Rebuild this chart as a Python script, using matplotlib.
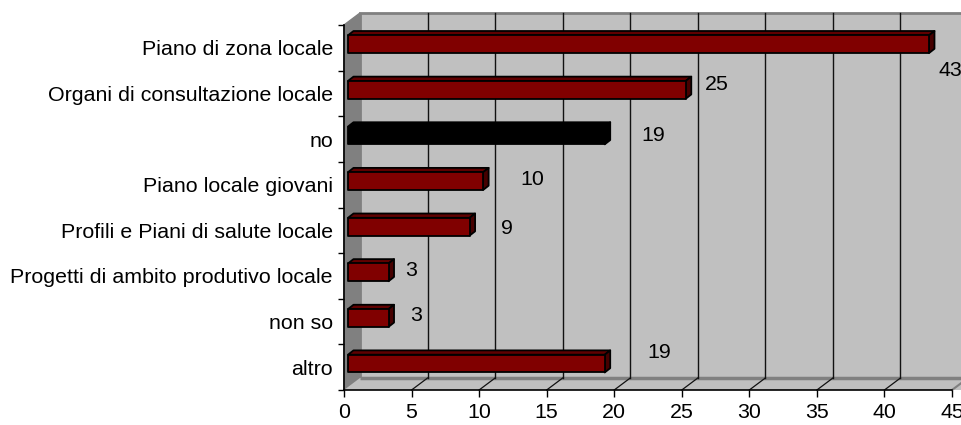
import matplotlib
matplotlib.use("Agg")
import matplotlib.pyplot as plt
from matplotlib.patches import Polygon
import numpy as np

plt.rcParams['font.family'] = ['Liberation Sans', 'DejaVu Sans']

categories = [
    "Piano di zona locale",
    "Organi di consultazione locale",
    "no",
    "Piano locale giovani",
    "Profili e Piani di salute locale",
    "Progetti di ambito produtivo locale",
    "non so",
    "altro",
]
values = [43, 25, 19, 10, 9, 3, 3, 19]
x_ticks = [0, 5, 10, 15, 20, 25, 30, 35, 40, 45]

# label offsets (pixels) from the bar end on the front plane
label_offsets = [(25, -23), (35, 9), (53, 4), (53, 5), (41, 2), (27, 5), (32, 6), (59, 15)]

FONT_SIZE = 15.4
W, H, DPI = 961, 425, 100
fig = plt.figure(figsize=(W / DPI, H / DPI), dpi=DPI)
fig.patch.set_facecolor('white')

left_px, right_px, top_px, bottom_px = 344, 952, 25, 390
ax = fig.add_axes([left_px / W, 1 - bottom_px / H,
                   (right_px - left_px) / W, (bottom_px - top_px) / H])
ax.patch.set_alpha(0)

n = len(categories)
XMAX = 45
ax.set_xlim(0, XMAX)
ax.set_ylim(n - 0.5, -0.5)

# pixel -> data unit conversion
PX = XMAX / (right_px - left_px)
PY = n / (bottom_px - top_px)

def off(dx, dy):
    return dx * PX, dy * PY

# depth of the chart box
wdx, wdy = off(16, -12)
y_top, y_bot = -0.5, n - 0.5
xr = XMAX + 3  # extend past the figure edge

# back wall
wall = Polygon([(0 + wdx, y_top + wdy), (xr + wdx, y_top + wdy),
                (xr + wdx, y_bot + wdy), (0 + wdx, y_bot + wdy)],
               closed=True, facecolor='#C0C0C0', edgecolor='#808080', lw=2,
               clip_on=False, zorder=0.5)
ax.add_patch(wall)

# side wall
side = Polygon([(0, y_top), (0 + wdx, y_top + wdy), (0 + wdx, y_bot + wdy), (0, y_bot)],
               closed=True, facecolor='#808080', edgecolor='#808080', lw=1,
               clip_on=False, zorder=0.6)
ax.add_patch(side)

# floor
floor = Polygon([(0, y_bot), (xr, y_bot), (xr + wdx, y_bot + wdy), (0 + wdx, y_bot + wdy)],
                closed=True, facecolor='#C0C0C0', edgecolor='none',
                clip_on=False, zorder=0.7)
ax.add_patch(floor)
ax.plot([0 + wdx, xr + wdx], [y_bot + wdy, y_bot + wdy], color='#808080', lw=2.5,
        clip_on=False, zorder=0.8, solid_capstyle='butt')
ax.plot([XMAX, XMAX + wdx], [y_bot, y_bot + wdy], color='#808080', lw=1.5,
        clip_on=False, zorder=0.8)

# gridlines on the back wall and floor diagonals
for t in x_ticks[1:]:
    ax.plot([t + wdx, t + wdx], [y_top + wdy, y_bot + wdy], color='#111111', lw=1,
            clip_on=False, zorder=0.9)
    if t < XMAX:
        ax.plot([t, t + wdx], [y_bot, y_bot + wdy], color='#111111', lw=0.9,
                clip_on=False, zorder=0.9)

# 3D bars
fdx, fdy = off(4, -3.6)
ddx, ddy = off(5.5, -4.3)
bh = 0.39
for i, v in enumerate(values):
    if categories[i] == "no":
        front_c, top_c, side_c = '#000000', '#000000', '#000000'
    else:
        front_c, top_c, side_c = '#800000', '#600000', '#460000'
    x0, x1 = 0 + fdx, v + fdx
    y0, y1 = i - bh / 2 + fdy, i + bh / 2 + fdy
    kw = dict(edgecolor='black', lw=1.3, clip_on=False, joinstyle='round')
    ax.add_patch(Polygon([(x0, y0), (x0 + ddx, y0 + ddy), (x1 + ddx, y0 + ddy), (x1, y0)],
                         closed=True, facecolor=top_c, zorder=3, **kw))
    ax.add_patch(Polygon([(x1, y0), (x1 + ddx, y0 + ddy), (x1 + ddx, y1 + ddy), (x1, y1)],
                         closed=True, facecolor=side_c, zorder=3, **kw))
    ax.add_patch(Polygon([(x0, y0), (x1, y0), (x1, y1), (x0, y1)],
                         closed=True, facecolor=front_c, zorder=3.1, **kw))
    ox, oy = label_offsets[i]
    ax.annotate(str(v), xy=(v, i), xytext=(ox, oy), textcoords='offset pixels',
                ha='center', va='center', fontsize=FONT_SIZE, color='black',
                annotation_clip=False, zorder=5)

# axes
for s in ['top', 'right']:
    ax.spines[s].set_visible(False)
for s in ['left', 'bottom']:
    ax.spines[s].set_color('black')
    ax.spines[s].set_linewidth(1.2)
    ax.spines[s].set_zorder(2)

ax.set_xticks(x_ticks)
ax.set_xticklabels([str(t) for t in x_ticks])
ax.tick_params(axis='x', direction='out', length=5, width=1, pad=4.5,
               labelsize=FONT_SIZE, colors='black')

ax.set_yticks(np.arange(n))
ax.set_yticklabels(categories)
ax.set_yticks(np.arange(n + 1) - 0.5, minor=True)
ax.tick_params(axis='y', which='major', length=0, pad=8, labelsize=FONT_SIZE)
ax.tick_params(axis='y', which='minor', direction='out', length=4.3, width=1, colors='black')

fig.savefig('out.png', dpi=DPI)
